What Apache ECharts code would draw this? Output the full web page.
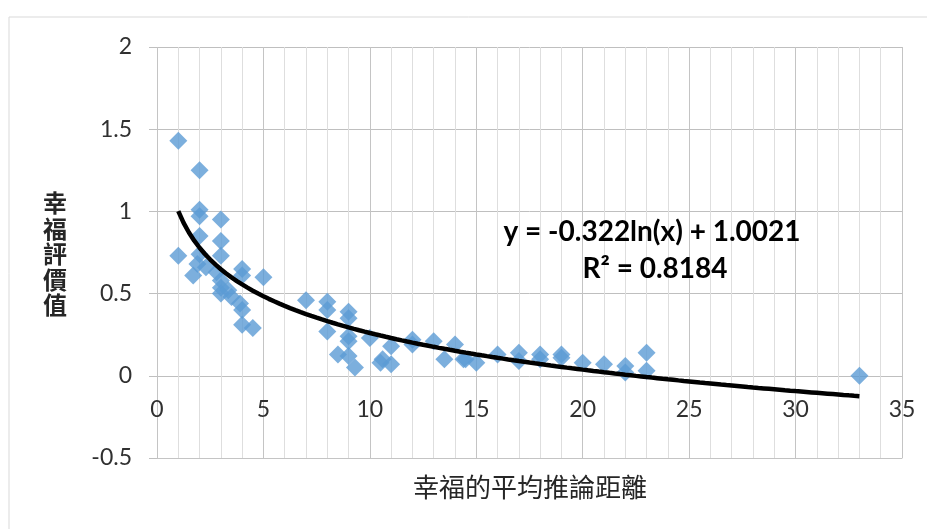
<!DOCTYPE html>
<html>
<head>
<meta charset="utf-8">
<script src="https://cdn.jsdelivr.net/npm/echarts@6/dist/echarts.min.js"></script>
<style>html,body{margin:0;padding:0;background:#fff;}#c{width:927px;height:529px;}</style>
</head>
<body>
<div id="c"></div>
<script>
// Scatter data: 幸福的平均推論距離 (x) vs 幸福評價值 (y)
const pointX = [1, 1, 2, 2, 2, 2, 2, 1.9, 1.7, 2.3, 2.8, 3, 3, 3, 3, 3, 3, 3.35, 3.5, 3.9, 4, 4, 4, 4, 4.5, 5,
  7, 8, 8, 8, 8.5, 9, 9, 9, 9, 9, 9.3, 10, 10.5, 10.6, 11, 11, 12, 12, 13, 13.5, 14, 14.4, 14.5, 15,
  16, 17, 17, 18, 18, 19, 19, 20, 21, 22, 22, 23, 23, 33];
const pointY = [1.43, 0.73, 1.25, 1.01, 0.97, 0.85, 0.74, 0.68, 0.61, 0.66, 0.63, 0.95, 0.82, 0.73, 0.58, 0.535, 0.50, 0.52, 0.48, 0.44, 0.65, 0.61, 0.40, 0.31, 0.29, 0.60,
  0.46, 0.45, 0.40, 0.27, 0.13, 0.39, 0.35, 0.24, 0.21, 0.12, 0.05, 0.23, 0.08, 0.10, 0.18, 0.07, 0.22, 0.19, 0.21, 0.10, 0.19, 0.10, 0.10, 0.08,
  0.13, 0.14, 0.09, 0.13, 0.10, 0.13, 0.11, 0.08, 0.07, 0.06, 0.02, 0.14, 0.03, 0.00];

// Logarithmic trendline as shown on the chart: y = -0.322 ln(x) + 1.0021
const trendA = -0.322;
const trendB = 1.0021;
const trendRange = [1, 33];

const xTicks = [0, 5, 10, 15, 20, 25, 30, 35];
const yTicks = [-0.5, 0, 0.5, 1, 1.5, 2];

const xTitle = '幸福的平均推論距離';
const yTitle = '幸福評價值';
const eqText = 'y = -0.322ln(x) + 1.0021';
const r2Text = 'R² = 0.8184';

const scatterData = pointX.map((x, i) => [x, pointY[i]]);
const trendData = [];
for (let x = trendRange[0]; x <= trendRange[1] + 1e-9; x += 0.25) {
  trendData.push([x, trendA * Math.log(x) + trendB]);
}

const chart = echarts.init(document.getElementById('c'), null, {renderer: 'canvas'});
const numFont = 'Lato, "Liberation Sans", sans-serif';
const cjkFont = '"Noto Sans CJK TC", "Noto Sans CJK SC", sans-serif';

chart.setOption({
  animation: false,
  backgroundColor: '#fff',
  grid: {left: 157, right: 25, top: 47, bottom: 71, containLabel: false, outerBoundsMode: 'none'},
  xAxis: {
    type: 'value',
    min: xTicks[0], max: xTicks[xTicks.length - 1], interval: 5,
    axisLine: {show: true, onZero: false, lineStyle: {color: '#c4c4c4', width: 1}},
    axisTick: {show: false},
    axisLabel: {color: '#303030', fontSize: 23, fontFamily: numFont, margin: -60},
    splitLine: {show: true, lineStyle: {color: '#c4c4c4', width: 1}},
    minorTick: {show: false, splitNumber: 5},
    minorSplitLine: {show: true, lineStyle: {color: '#dedede', width: 1}}
  },
  yAxis: {
    type: 'value',
    min: yTicks[0], max: yTicks[yTicks.length - 1], interval: 0.5,
    axisLine: {show: false},
    axisTick: {show: true, length: 8, lineStyle: {color: '#bfbfbf'}},
    axisLabel: {color: '#303030', fontSize: 23, fontFamily: numFont, margin: 25},
    splitLine: {show: true, lineStyle: {color: '#bfbfbf', width: 1}}
  },
  graphic: [
    {type: 'rect', silent: true, z: -10, shape: {x: 9, y: 17, width: 940, height: 540},
     style: {fill: 'none', stroke: '#d9d9d9', lineWidth: 1}},
    {type: 'text', x: 530, y: 487, style: {text: xTitle, fill: '#262626', font: '26px ' + cjkFont, align: 'center', verticalAlign: 'middle'}},
    {type: 'text', x: 55, y: 254, style: {text: yTitle.split('').join('\n'), fill: '#262626', font: 'bold 24px ' + cjkFont, lineHeight: 25.5, align: 'center', verticalAlign: 'middle'}},
    {type: 'text', x: 652, y: 232, z: 100, style: {text: eqText, fill: '#000', font: 'bold 28px ' + numFont, align: 'center', verticalAlign: 'middle'}},
    {type: 'text', x: 655, y: 269, z: 100, style: {text: r2Text, fill: '#000', font: 'bold 28px ' + numFont, align: 'center', verticalAlign: 'middle'}}
  ],
  series: [
    {
      type: 'scatter',
      data: scatterData,
      symbol: 'diamond',
      symbolSize: 18,
      itemStyle: {color: '#5b9bd5'},
      z: 2
    },
    {
      type: 'line',
      data: trendData,
      showSymbol: false,
      smooth: false,
      lineStyle: {color: '#000', width: 4.5},
      z: 3
    }
  ]
});
</script>
</body>
</html>
